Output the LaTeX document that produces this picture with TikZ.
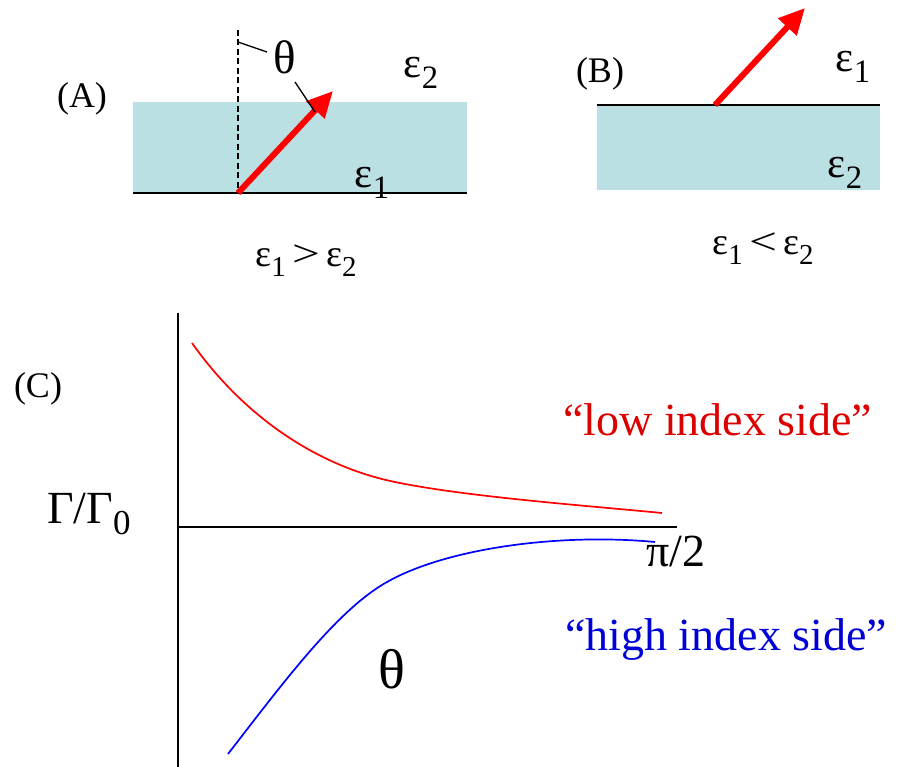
\documentclass[tikz,border=0pt]{standalone}
\usepackage{fontspec}
\setmainfont{Liberation Serif}
\usetikzlibrary{arrows.meta}
\definecolor{slab}{RGB}{187,224,227}
\definecolor{lowred}{RGB}{221,0,0}
\definecolor{highblue}{RGB}{0,0,214}
\newcommand{\dsub}[1]{\raisebox{-0.24em}{\scalebox{0.76}{#1}}}
\newcommand{\fsz}[1]{\fontsize{#1}{#1}\selectfont}
\begin{document}
\begin{tikzpicture}[x=1pt,y=-1pt,
  lbl/.style={inner sep=0pt, anchor=base},
  panel/.style={lbl, font=\fsz{36}},
  eps/.style={lbl, font=\fsz{43}},
  rel/.style={lbl, font=\fsz{38}},
  big/.style={lbl, font=\fsz{46}},
  ray/.style={red, line width=6pt, -{Triangle[length=26pt,width=24pt]}},
  leader/.style={line width=1.3pt},
  axis/.style={line width=1.6pt},
  curve/.style={line width=1.7pt}]
\useasboundingbox (0,0) rectangle (908,767);

% ---------- Panel A ----------
\fill[slab] (133,102) rectangle (467,193);
\draw[axis] (133,193) -- (467,193);
\draw[line width=2.6pt, dash pattern=on 6pt off 3.5pt] (238,30) -- (238,193);
\coordinate (a0) at (238,193);
\coordinate (a1) at (333,91);
\draw[ray] (a0) -- (a1);
\draw[leader] (238,42) -- (267,52);
\draw[leader] (295,82) -- (315,112);
\node[panel] (labA) at (82,108) {(A)};
\node[lbl, font=\fsz{47}] (thA) at (285,74) {θ};
\node[eps] (e2A) at (421,78) {ε\dsub{2}};
\node[eps] (e1A) at (372,188) {ε\dsub{1}};
\node[rel] (relA) at (306,267) {ε\dsub{1}\,\scalebox{1.3}[1]{>}\,ε\dsub{2}};

% ---------- Panel B ----------
\fill[slab] (597,105) rectangle (880,190);
\draw[axis] (597,105) -- (880,105);
\coordinate (b0) at (715,105);
\coordinate (b1) at (805,8);
\draw[ray] (b0) -- (b1);
\node[panel] (labB) at (600,83) {(B)};
\node[eps] (e1B) at (853,72) {ε\dsub{1}};
\node[eps] (e2B) at (845,178) {ε\dsub{2}};
\node[rel] (relB) at (763,255) {ε\dsub{1}\,\scalebox{1.3}[1]{<}\,ε\dsub{2}};

% ---------- Panel C ----------
\draw[axis] (178,313) -- (178,767);
\draw[axis] (178,527) -- (677,527);
\node[panel] (labC) at (38,397) {(C)};
\node[big, anchor=base west] (gam) at (47,523) {Γ/Γ\raisebox{-0.26em}{\scalebox{0.76}{0}}};
\node[lbl, font=\fsz{46}, anchor=base west] (pi2) at (646,566) {π/2};
\node[lbl, font=\fsz{56}] (thC) at (392,688) {θ};
\node[big, anchor=base west, text=lowred] (low) at (563,435) {“low index side”};
\node[big, anchor=base west, text=highblue] (high) at (565,650) {“high index side”};

\draw[curve, red] (192,343) .. controls (245,418) and (320,468) .. (400,483)
  .. controls (470,497) and (590,506) .. (662,513);
\draw[curve, blue] (228,754) .. controls (283,683) and (337,610) .. (387,582)
  .. controls (447,548) and (560,533) .. (655,542);
\end{tikzpicture}
\end{document}
